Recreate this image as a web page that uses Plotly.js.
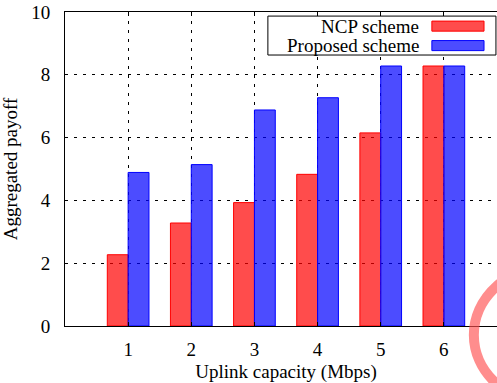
<!DOCTYPE html>
<html>
<head>
<meta charset="utf-8">
<script src="https://cdn.plot.ly/plotly-3.0.1.min.js"></script>
<style>
#chart svg text { font-family: "Liberation Serif", "Times New Roman", serif !important; }
</style>
</head>
<body style="margin:0;overflow:hidden;background:#fff">
<div id="chart"></div>
<script>
const categories = [1, 2, 3, 4, 5, 6];
const seriesNames = ["NCP scheme", "Proposed scheme"];
const ncpValues = [2.27, 3.28, 3.93, 4.83, 6.15, 8.28];
const proposedValues = [4.89, 5.14, 6.88, 7.27, 8.28, 8.28];
const yTicks = [0, 2, 4, 6, 8, 10];
const xTickLabels = ["1", "2", "3", "4", "5", "6"];

const FONT = "Liberation Serif";
const redFill = "rgba(255,0,0,0.7)";
const blueFill = "rgba(0,0,255,0.7)";

const traces = [
  {type: "bar", x: categories, y: ncpValues, name: seriesNames[0],
   marker: {color: redFill, line: {color: "#ff0000", width: 1}}, showlegend: false},
  {type: "bar", x: categories, y: proposedValues, name: seriesNames[1],
   marker: {color: blueFill, line: {color: "#0000ff", width: 1}}, showlegend: false}
];

const layout = {
  width: 507, height: 383,
  margin: {l: 65, r: 0, t: 12, b: 57},
  paper_bgcolor: "#fff", plot_bgcolor: "#fff",
  font: {family: FONT, size: 19, color: "#000"},
  barmode: "group", bargap: 0.34, bargroupgap: 0,
  xaxis: {
    range: [0, 7], tickvals: categories, ticktext: xTickLabels,
    showgrid: true, gridcolor: "#000", gridwidth: 1, griddash: "3px,6px",
    zeroline: false, showline: true, linecolor: "#000", linewidth: 1, mirror: "ticks",
    ticks: "inside", ticklen: 4, tickcolor: "#000",
    ticklabelstandoff: 6,
    tickfont: {family: FONT, size: 19, color: "#000"},
    title: {text: "Uplink capacity (Mbps)", font: {family: FONT, size: 19, color: "#000"}, standoff: 8}
  },
  yaxis: {
    range: [0, 10], tickvals: yTicks,
    showgrid: true, gridcolor: "#000", gridwidth: 1, griddash: "3px,6px",
    zeroline: false, showline: true, linecolor: "#000", linewidth: 1,
    ticks: "", ticklabelstandoff: 10,
    tickfont: {family: FONT, size: 19, color: "#000"},
    title: {text: "Aggregated payoff", font: {family: FONT, size: 19, color: "#000"}, standoff: 12}
  },
  shapes: [
    {type: "rect", xref: "paper", yref: "paper", x0: 0.459, x1: 0.975, y0: 0.863, y1: 0.987,
     line: {color: "#000", width: 1}, fillcolor: "#fff", layer: "above"},
    {type: "rect", xref: "paper", yref: "paper", x0: 0.830, x1: 0.948, y0: 0.939, y1: 0.971,
     line: {color: "#ff0000", width: 1}, fillcolor: redFill, layer: "above"},
    {type: "rect", xref: "paper", yref: "paper", x0: 0.830, x1: 0.948, y0: 0.877, y1: 0.909,
     line: {color: "#0000ff", width: 1}, fillcolor: blueFill, layer: "above"},
    {type: "circle", xref: "paper", yref: "paper", x0: 0.925, x1: 1.276, y0: -0.248, y1: 0.191,
     line: {color: "rgba(255,80,80,0.65)", width: 10}, fillcolor: "rgba(0,0,0,0)", layer: "above"}
  ],
  annotations: [
    {xref: "paper", yref: "paper", x: 0.805, y: 0.955, xanchor: "right", yanchor: "middle",
     text: seriesNames[0], showarrow: false, font: {family: FONT, size: 19, color: "#000"}},
    {xref: "paper", yref: "paper", x: 0.805, y: 0.893, xanchor: "right", yanchor: "middle",
     text: seriesNames[1], showarrow: false, font: {family: FONT, size: 19, color: "#000"}}
  ]
};

Plotly.newPlot("chart", traces, layout, {displayModeBar: false, staticPlot: true});
</script>
</body>
</html>
